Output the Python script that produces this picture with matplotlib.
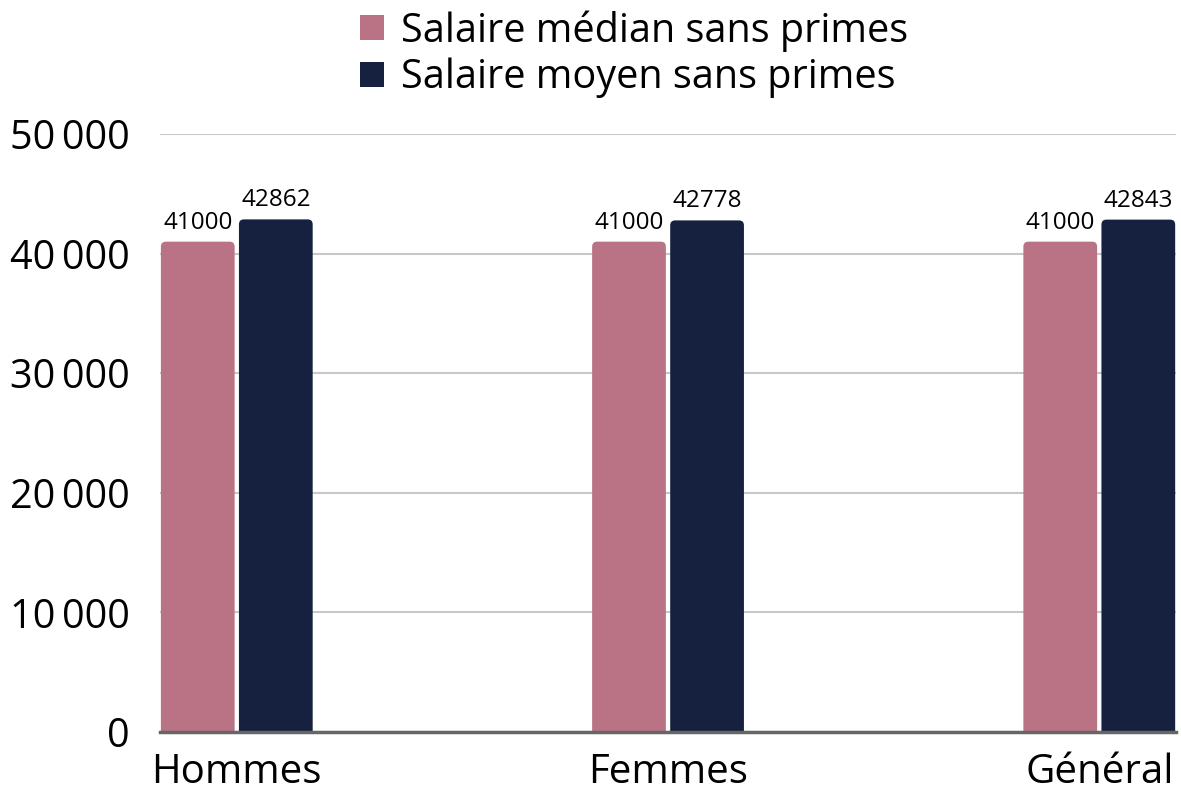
import matplotlib.pyplot as plt
from matplotlib.patches import FancyBboxPatch, Patch
import numpy as np

categories = ['Hommes', 'Femmes', 'Général']
median_salary = [41000, 41000, 41000]
mean_salary = [42862, 42778, 42843]
series_names = ['Salaire médian sans primes', 'Salaire moyen sans primes']
y_ticks = [0, 10000, 20000, 30000, 40000, 50000]

plt.rcParams['font.family'] = ['Open Sans', 'DejaVu Sans']

pink = '#b97385'
navy = '#16213f'

fig = plt.figure(figsize=(11.81, 7.94), dpi=100)
ax_pos = [0.1355, 0.0781, 0.8603, 0.7531]
ax = fig.add_axes(ax_pos)

xlim = (-0.178, 2.178)
ylim = (0, 50000)
ax.set_xlim(*xlim)
ax.set_ylim(*ylim)

x = np.arange(len(categories))
w = 0.171
gap = 0.005
b1 = ax.bar(x - w / 2 - gap, median_salary, w, color=pink, zorder=3)
b2 = ax.bar(x + w / 2 + gap, mean_salary, w, color=navy, zorder=3)

# rounded tops: replace rectangles with rounded patches
px_x = ax_pos[2] * 1181 / (xlim[1] - xlim[0])
px_y = ax_pos[3] * 794 / (ylim[1] - ylim[0])
r = 5 / px_x
aspect = px_x / px_y
for bars in (b1, b2):
    for rect in bars:
        rect.set_visible(False)
        ry = r * aspect
        p = FancyBboxPatch((rect.get_x(), -ry), rect.get_width(), rect.get_height() + ry,
                           boxstyle=f'round,pad=0,rounding_size={r}',
                           mutation_aspect=aspect, facecolor=rect.get_facecolor(),
                           edgecolor='none', zorder=3, clip_on=True)
        ax.add_patch(p)

ax.bar_label(b1, labels=[str(v) for v in median_salary], padding=5, fontsize=17.5)
ax.bar_label(b2, labels=[str(v) for v in mean_salary], padding=5, fontsize=17.5)

ax.set_yticks(y_ticks)
ax.set_yticklabels([f'{v:,}'.replace(',', '\u2009') for v in y_ticks], fontsize=28.5)
ax.set_xticks(x)
ax.set_xticklabels(categories, fontsize=29)
ax.tick_params(axis='y', length=0, pad=22)
ax.tick_params(axis='x', length=0, pad=15)

ax.yaxis.grid(True, color='#c8c8c8', linewidth=1.5, zorder=0)
ax.set_axisbelow(True)
for s in ['top', 'right', 'left']:
    ax.spines[s].set_visible(False)
ax.spines['bottom'].set_color('#666666')
ax.spines['bottom'].set_linewidth(2.5)
ax.spines['bottom'].set_zorder(4)

handles = [Patch(facecolor=pink, edgecolor='none'), Patch(facecolor=navy, edgecolor='none')]
fig.legend(handles, series_names, loc='upper center', bbox_to_anchor=(0.537, 1.032),
           ncol=1, frameon=False, fontsize=28.5, handlelength=0.6, handleheight=0.6,
           handletextpad=0.45, labelspacing=0.15)

plt.savefig('out.png', dpi=100)
